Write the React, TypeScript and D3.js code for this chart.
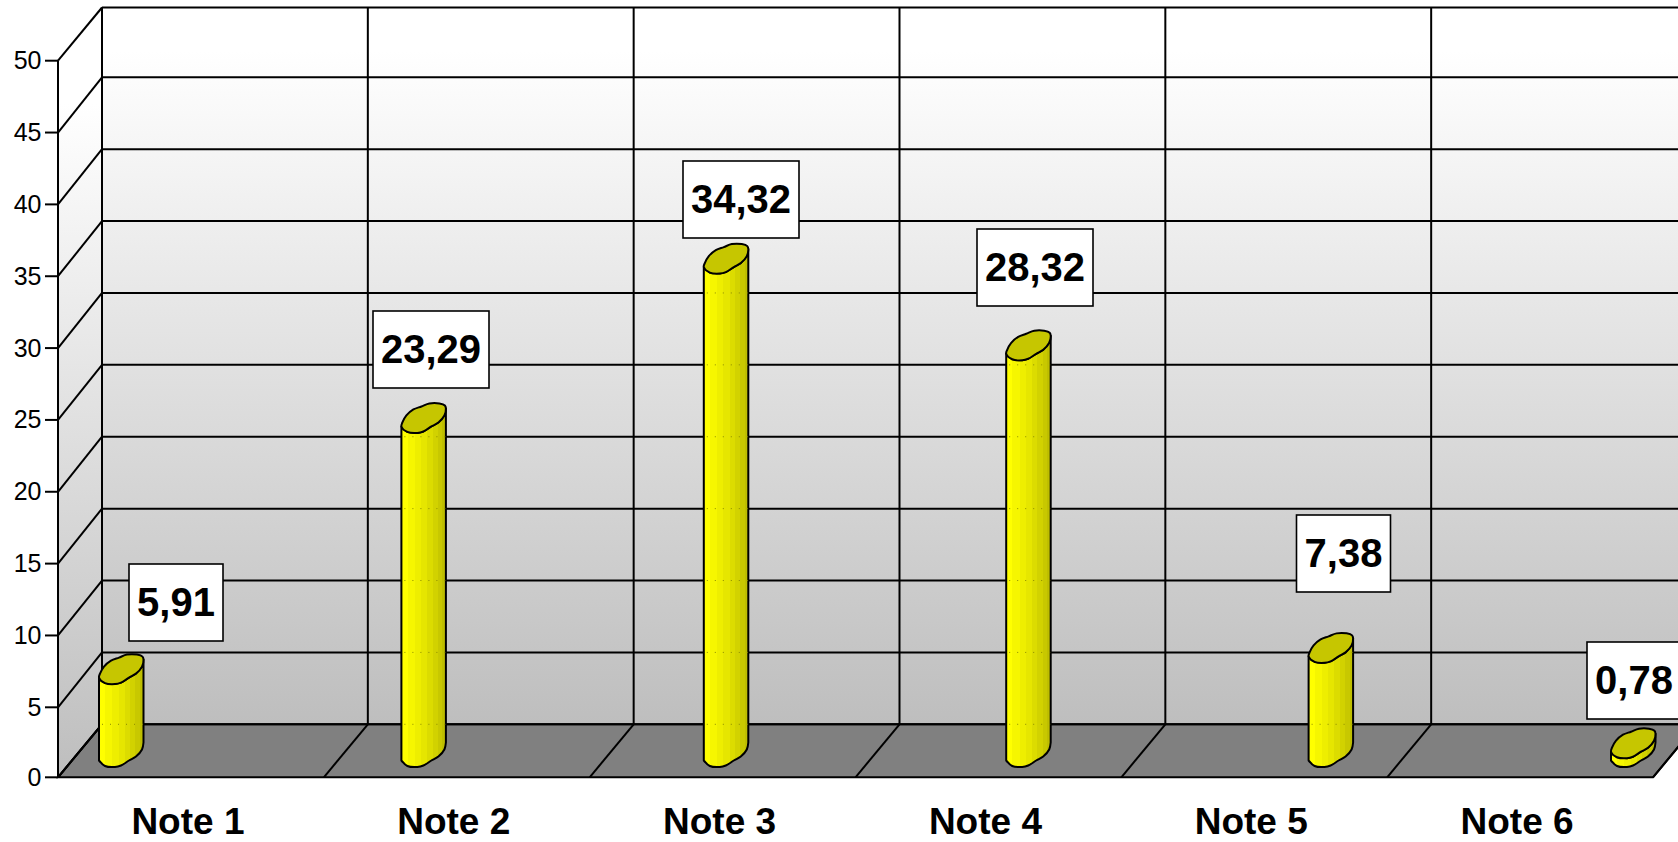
import React from "react";
import * as d3 from "d3";

// Chart content
const categories = ["Note 1", "Note 2", "Note 3", "Note 4", "Note 5", "Note 6"];
const values = [5.91, 23.29, 34.32, 28.32, 7.38, 0.78];
const valueLabels = ["5,91", "23,29", "34,32", "28,32", "7,38", "0,78"];
const yTicks = [0, 5, 10, 15, 20, 25, 30, 35, 40, 45, 50];

// Callout placement, one entry per bar: centre x and top edge of the box
const calloutCentreX = [176, 431, 741, 1035, 1343.5, 1634];
const calloutTop = [564, 311, 161, 229, 515, 642];
const calloutWidth = [94, 116, 116, 116, 94, 94];

// Outline of the bar's oval cap, relative to its left corner
const capUpper: [number, number][] = [[0, 0], [1, -4], [5, -11], [12, -17], [20, -20], [28, -23], [38, -23], [43.5, -21], [44.5, -18]];
const capLower: [number, number][] = [[44.5, -18], [43, -11], [37, -4], [30, 0], [22, 5], [16, 6.5], [6, 5.5], [0, 0]];

// Horizontal shading stripes of the column body
const stripeShades = ["#ffff00", "#f6f600", "#eeee00", "#e6e600", "#dcdc00", "#d2d200", "#c8c800", "#bebe00"];
const stripeEdges = [0, 0.14, 0.3, 0.44, 0.58, 0.7, 0.82, 0.92, 1];

// Wall shading, top to bottom
const wallShades = ["#ffffff", "#ffffff", "#bebebe"];
const wallOffsets = [0, 0.06, 1];

const W = 1678;
const H = 842;
const FRONT_L = 58;
const FRONT_R = 1653;
const DEPTH_X = 44;
const BASE_LIFT = 2.5;
const FONT = "'Liberation Sans', Arial, sans-serif";

const yFront = d3.scaleLinear().domain([0, 5, 50]).range([777.3, 707.3, 60.7]);
const yBack = d3.scaleLinear().domain([0, 45, 50]).range([724.3, 77.3, 7.5]);
const yBar = d3.scaleLinear().domain([0, 50]).range([763, 40.5]);
const xCat = d3.scaleBand().domain(categories).range([FRONT_L, FRONT_R]);
const xBar = d3.scalePoint().domain(categories).range([99, 1611]);

const capPath = d3.line().curve(d3.curveCatmullRomClosed.alpha(0.5));
const polyPath = d3.line();
const edgePath = d3.line().curve(d3.curveCatmullRom.alpha(0.5));

const at = (pts: [number, number][], x: number, y: number): [number, number][] =>
  pts.map(([dx, dy]) => [x + dx, y + dy]);

function Column({ cat, value }: { cat: string; value: number }) {
  const x = xBar(cat) as number;
  const top = yBar(value);
  const bottom = yBar(0) - BASE_LIFT;
  const base = edgePath(at(capLower, x, bottom)) as string;
  const rim = polyPath(at(capLower, x, top).reverse()) as string;
  const grid = yTicks.filter((t) => yBack(t) > top - 8 && yBack(t) < bottom - 8);
  return (
    <g>
      <path
        d={`${base}L${rim.slice(1)}Z`}
        fill="url(#barBody)"
        stroke="#000"
        strokeWidth={2}
        strokeLinejoin="round"
      />
      {grid.map((t) => (
        <line key={t} x1={x + 3} x2={x + 44} y1={yBack(t)} y2={yBack(t)} stroke="#8a8a00" strokeWidth={1} strokeDasharray="1 7" />
      ))}
      <path
        d={capPath(at([...capUpper, ...capLower.slice(1, -1)], x, top)) as string}
        fill="#c6c600"
        stroke="#000"
        strokeWidth={2}
        strokeLinejoin="round"
      />
    </g>
  );
}

export default function App() {
  const backX = (i: number) => FRONT_L + DEPTH_X + i * xCat.bandwidth();
  const stops = stripeShades.flatMap((c, i) => [
    <stop key={i + "a"} offset={stripeEdges[i]} stopColor={c} />,
    <stop key={i + "b"} offset={stripeEdges[i + 1]} stopColor={c} />,
  ]);
  const wallStops = wallShades.map((c, i) => (
    <stop key={i} offset={wallOffsets[i]} stopColor={c} />
  ));
  return (
    <svg width={W} height={H} viewBox={`0 0 ${W} ${H}`} style={{ position: "fixed", left: 0, top: 0, background: "#fff" }}>
      <defs>
        <linearGradient id="barBody" x1="0" x2="1" y1="0" y2="0">{stops}</linearGradient>
        <linearGradient id="wallBack" gradientUnits="userSpaceOnUse" x1="0" x2="0" y1={yBack(50)} y2={yBack(0)}>{wallStops}</linearGradient>
        <linearGradient id="wallSide" gradientUnits="userSpaceOnUse" x1="0" x2="0" y1={yFront(50)} y2={yFront(0)}>{wallStops}</linearGradient>
      </defs>

      {/* Back wall and side wall */}
      <rect x={backX(0)} y={yBack(50)} width={backX(6) - backX(0)} height={yBack(0) - yBack(50)} fill="url(#wallBack)" />
      <path
        d={polyPath([[FRONT_L, yFront(50)], [backX(0), yBack(50)], [backX(0), yBack(0)], [FRONT_L, yFront(0)]]) + "Z"}
        fill="url(#wallSide)"
      />

      {/* Floor */}
      <path
        d={polyPath([[FRONT_L, yFront(0)], [backX(0), yBack(0)], [backX(6), yBack(0)], [FRONT_R, yFront(0)]]) + "Z"}
        fill="#808080"
        stroke="#000"
        strokeWidth={2}
      />

      {/* Grid lines */}
      <g stroke="#000" strokeWidth={2} fill="none">
        {yTicks.map((t) => (
          <g key={t}>
            <line x1={backX(0)} x2={backX(6)} y1={yBack(t)} y2={yBack(t)} />
            <line x1={FRONT_L} x2={backX(0)} y1={yFront(t)} y2={yBack(t)} />
            <line x1={45} x2={FRONT_L} y1={yFront(t)} y2={yFront(t)} />
          </g>
        ))}
        <line x1={FRONT_L} x2={FRONT_L} y1={yFront(50)} y2={yFront(0)} />
        {d3.range(0, 7).map((i) => (
          <g key={i}>
            <line x1={backX(i)} x2={backX(i)} y1={yBack(50)} y2={yBack(0)} />
            <line x1={FRONT_L + i * xCat.bandwidth()} x2={backX(i)} y1={yFront(0)} y2={yBack(0)} />
          </g>
        ))}
      </g>

      {/* Value axis labels */}
      <g fontFamily={FONT} fontSize={25} fill="#000" textAnchor="end">
        {yTicks.map((t) => (
          <text key={t} x={41.5} y={yFront(t) + 8.5}>{t}</text>
        ))}
      </g>

      {/* Columns */}
      {categories.map((c, i) => (
        <Column key={c} cat={c} value={values[i]} />
      ))}

      {/* Value callouts */}
      <g fontFamily={FONT} fontWeight={700} fontSize={40} fill="#000" textAnchor="middle">
        {valueLabels.map((label, i) => (
          <g key={label}>
            <rect
              x={calloutCentreX[i] - calloutWidth[i] / 2}
              y={calloutTop[i]}
              width={calloutWidth[i]}
              height={77}
              fill="#fff"
              stroke="#000"
              strokeWidth={1.6}
            />
            <text x={calloutCentreX[i]} y={calloutTop[i] + 51.5}>{label}</text>
          </g>
        ))}
      </g>

      {/* Category labels */}
      <g fontFamily={FONT} fontWeight={700} fontSize={37} fill="#000" textAnchor="middle">
        {categories.map((c) => (
          <text key={c} x={(xCat(c) as number) + xCat.bandwidth() / 2 - 3} y={834}>{c}</text>
        ))}
      </g>
    </svg>
  );
}
